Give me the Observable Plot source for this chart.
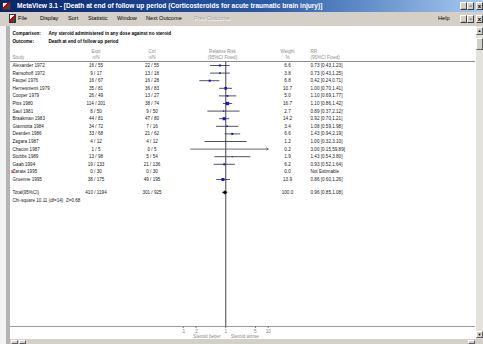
<!DOCTYPE html>
<html><head><meta charset="utf-8">
<script src="https://cdn.jsdelivr.net/npm/d3@7"></script>
<script src="https://cdn.jsdelivr.net/npm/@observablehq/plot@0.6"></script>
<style>
html,body{margin:0;padding:0;background:#fff;}
#win{position:relative;width:483px;height:344px;overflow:hidden;background:#d4d0c8;font-family:"Liberation Sans",Arial,sans-serif;}
#win div{position:absolute;box-sizing:border-box;}
#title{left:0;top:0;width:483px;height:12px;background:linear-gradient(to right,#0a246a 0%,#2a5aa8 55%,#a6caf0 100%);}
#title .t{left:17px;top:0;line-height:12px;font-size:6.6px;font-weight:bold;color:#fff;white-space:nowrap;}
.icon{width:9px;height:8px;background:linear-gradient(135deg,#fff 0%,#fff 35%,#c00 36%,#c00 60%,#444 61%);border:1px solid #333;}
.btn{width:7px;height:8px;background:#d4d0c8;border:1px solid;border-color:#fff #404040 #404040 #fff;font-size:6px;line-height:6px;text-align:center;color:#000;font-weight:bold;}
#menu{left:0;top:12px;width:483px;height:14px;background:#d4d0c8;}
#menu span{position:absolute;top:2px;font-size:5.6px;line-height:9px;color:#000;white-space:nowrap;}
#menu span.dis{color:#a0a0a0;text-shadow:0.5px 0.5px 0 #fff;}
#leftpad{left:0;top:26px;width:6px;height:318px;background:#f2f2f2;}
#leftbar{left:6px;top:26px;width:4px;height:318px;background:#b4b4b4;}
#content{left:10px;top:26px;width:466px;height:313px;background:#fff;}
#vscroll{left:476px;top:26px;width:7px;height:313px;background:#e4e2dc;}
#thumb{left:476px;top:38px;width:7px;height:12px;background:#d4d0c8;border:1px solid;border-color:#fff #606060 #606060 #fff;}
#upbtn{left:476px;top:27px;width:7px;height:8px;background:#d4d0c8;border:1px solid;border-color:#fff #606060 #606060 #fff;font-size:4px;line-height:6px;text-align:center;}
#dnbtn{left:476px;top:331px;width:7px;height:7px;background:#d4d0c8;border:1px solid;border-color:#fff #606060 #606060 #fff;font-size:4px;line-height:5px;text-align:center;}
#hscroll{left:10px;top:339px;width:473px;height:5px;background:#d4d0c8;}
.hb{top:340px;width:7px;height:4px;background:#d4d0c8;border:1px solid;border-color:#fff #606060 #606060 #fff;}
#plot{left:0;top:0;}
</style></head>
<body>
<div id="win">
  <div id="title">
    <div class="icon" style="left:2px;top:2px;"></div>
    <div class="t">MetaView 3.1 - [Death at end of follow up period (Corticosteroids for acute traumatic brain injury)]</div>
    <div class="btn" style="left:460px;top:2px;">_</div>
    <div class="btn" style="left:467px;top:2px;">&#9643;</div>
    <div class="btn" style="left:476px;top:2px;">x</div>
  </div>
  <div id="menu">
    <div class="icon" style="left:9px;top:2px;width:7px;height:9px;"></div>
    <span style="left:18px;">File</span>
    <span style="left:40px;">Display</span>
    <span style="left:68px;">Sort</span>
    <span style="left:88px;">Statistic</span>
    <span style="left:117px;">Window</span>
    <span style="left:146px;">Next Outcome</span>
    <span class="dis" style="left:194px;">Prev Outcome</span>
    <span style="left:438px;">Help</span>
    <div class="btn" style="left:460px;top:3px;">_</div>
    <div class="btn" style="left:467px;top:3px;">&#9643;</div>
    <div class="btn" style="left:476px;top:3px;">x</div>
  </div>
  <div id="leftpad"></div>
  <div id="leftbar"></div>
  <div id="content"></div>
  <div id="vscroll"></div>
  <div id="upbtn">&#9650;</div>
  <div id="thumb"></div>
  <div id="dnbtn">&#9660;</div>
  <div id="hscroll"></div>
  <div class="hb" style="left:11px;"></div>
  <div class="hb" style="left:19px;"></div>
  <div class="hb" style="left:468px;"></div>
  <div id="plot"></div>
</div>
<script>
// ---- data ----
const studies = ["Alexander 1972","Ransohoff 1972","Faupel 1976","Hernesniemi 1979","Cooper 1979","Pitts 1980","Saul 1981","Braakman 1983","Giannotta 1984","Dearden 1986","Zagara 1987","Chacon 1987","Stubbs 1989","Gaab 1994","Zarate 1995","Gruenne 1995"];
const exptEvents = [16, 9, 16, 35, 26, 114, 8, 44, 34, 33, 4, 1, 13, 19, 0, 38];
const exptTotals = [55, 17, 67, 81, 49, 201, 50, 81, 72, 68, 12, 5, 98, 133, 30, 175];
const ctrlEvents = [22, 13, 16, 36, 13, 38, 9, 47, 7, 21, 4, 0, 5, 21, 0, 49];
const ctrlTotals = [55, 18, 28, 83, 27, 74, 50, 80, 16, 62, 12, 5, 54, 136, 30, 195];
const weights = [6.6, 3.8, 6.8, 10.7, 5.0, 16.7, 2.7, 14.2, 3.4, 6.6, 1.2, 0.2, 1.9, 6.2, 0.0, 13.9];
const rr    = [0.73, 0.73, 0.42, 1.00, 1.10, 1.10, 0.89, 0.92, 1.08, 1.43, 1.00, 3.00, 1.43, 0.93, null, 0.86];
const rrLow = [0.43, 0.43, 0.24, 0.70, 0.69, 0.86, 0.37, 0.70, 0.59, 0.94, 0.32, 0.15, 0.54, 0.52, null, 0.60];
const rrHigh= [1.23, 1.25, 0.71, 1.41, 1.77, 1.42, 2.12, 1.21, 1.98, 2.19, 3.10, 59.89, 3.80, 1.64, null, 1.26];
const excluded = ["Zarate 1995"];
const total = {label: "Total(95%CI)", exptEvents: 410, exptTotal: 1194, ctrlEvents: 301, ctrlTotal: 925, weight: 100.0, rr: 0.96, lo: 0.85, hi: 1.08};
const heterogeneity = "Chi-square 10.11 (df=14)  Z=0.68";
const comparison = "Any steroid administered in any dose against no steroid";
const outcome = "Death at end of follow up period";
const tickValues = [0.1, 0.2, 1, 5, 10];
const tickLabels = [".1", ".2", "1", "5", "10"];
const favoursLeft = "Steroid better";
const favoursRight = "Steroid worse";

// ---- table ----
const rows = studies.map((s, i) => ({
  i, study: s, ee: exptEvents[i], en: exptTotals[i], ce: ctrlEvents[i], cn: ctrlTotals[i],
  w: weights[i], rr: rr[i], lo: rrLow[i], hi: rrHigh[i]
}));
const xMax = 10;
const est = rows.filter(d => d.rr != null);
const totalY = 16.7, hetY = 17.7;
const f2 = v => v.toFixed(2);
const rrText = d => d.rr == null ? "Not Estimable" : `${f2(d.rr)} [${f2(d.lo)},${f2(d.hi)}]`;

const fs = 4.6;
const body = "#202020", head = "#8c8c8c";
const col = (dx, anchor="middle") => ({frameAnchor: "left", dx, textAnchor: anchor, fontSize: fs});

const diamond = [
  {x: total.lo, y: totalY}, {x: total.rr, y: totalY - 0.22},
  {x: total.hi, y: totalY}, {x: total.rr, y: totalY + 0.22}, {x: total.lo, y: totalY}
];

const H1 = -1.9, H2 = -1.1, HL = -0.53, AX = 34.34;

const chart = Plot.plot({
  width: 483, height: 344,
  marginLeft: 10, marginRight: 8, marginTop: 26, marginBottom: 18,
  style: {background: "transparent", fontFamily: "'Liberation Sans', Arial, sans-serif", overflow: "hidden"},
  x: {type: "log", domain: [0.1, 10], range: [182.7, 267.7]},
  y: {type: "linear", domain: [0, 1], range: [65, 72.6], axis: null},
  r: {type: "sqrt", domain: [0, 16.7], range: [0, 1.86]},
  marks: [
    // header block
    Plot.text([comparison], {y: [-4.15], text: () => "Comparison:", ...col(2, "start"), fontWeight: "bold", fill: "#000"}),
    Plot.text([comparison], {y: [-4.15], text: d => d, ...col(38, "start"), fontWeight: "bold", fill: "#000"}),
    Plot.text([outcome], {y: [-3.1], text: () => "Outcome:", ...col(2, "start"), fontWeight: "bold", fill: "#000"}),
    Plot.text([outcome], {y: [-3.1], text: d => d, ...col(38, "start"), fontWeight: "bold", fill: "#000"}),
    Plot.text(["Study"], {y: [H2], text: d => d, ...col(2, "start"), fill: head}),
    Plot.text(["Expt", "n/N"], {y: [H1, H2], text: d => d, ...col(85.5), fill: head}),
    Plot.text(["Ctrl", "n/N"], {y: [H1, H2], text: d => d, ...col(141.5), fill: head}),
    Plot.text(["Relative Risk", "(95%CI Fixed)"], {y: [H1, H2], text: d => d, ...col(212), fill: head}),
    Plot.text(["Weight", "%"], {y: [H1, H2], text: d => d, ...col(277), fill: head}),
    Plot.text(["RR", "(95%CI Fixed)"], {y: [H1, H2], text: d => d, ...col(300, "start"), fill: head}),
    Plot.ruleY([HL], {stroke: "#8a8a8a", strokeWidth: 1}),
    // null line and axis line
    Plot.ruleX([1], {y1: HL, y2: AX, stroke: "#707070", strokeWidth: 1.3}),
    Plot.ruleY([AX], {stroke: "#9a9a9a", strokeWidth: 1}),
    // study rows
    Plot.text(rows.filter(d => excluded.includes(d.study)), {y: "i", text: () => "x", ...col(0.5, "start"), fill: "#e02020", fontWeight: "bold"}),
    Plot.text(rows, {y: "i", text: "study", ...col(2, "start"), fill: body}),
    Plot.text(rows, {y: "i", text: d => `${d.ee} / ${d.en}`, ...col(85.5), fill: body}),
    Plot.text(rows, {y: "i", text: d => `${d.ce} / ${d.cn}`, ...col(141.5), fill: body}),
    Plot.text(rows, {y: "i", text: d => d.w.toFixed(1), ...col(277), fill: body}),
    Plot.text(rows, {y: "i", text: rrText, ...col(300, "start"), fill: body, fontWeight: d => d.rr == null ? "bold" : "normal"}),
    // CIs
    Plot.link(est.filter(d => d.hi <= xMax), {x1: "lo", x2: "hi", y1: "i", y2: "i", stroke: "#3c3c58", strokeWidth: 0.9}),
    Plot.arrow(est.filter(d => d.hi > xMax), {x1: "lo", x2: () => xMax, y1: "i", y2: "i", stroke: "#5a5a6a", strokeWidth: 0.9, headLength: 3, headAngle: 70, insetEnd: 0}),
    Plot.dot(est, {x: "rr", y: "i", r: "w", symbol: "square", fill: "#1414d8", stroke: "none"}),
    // total
    Plot.text([total], {y: [totalY], text: d => d.label, ...col(2, "start"), fill: body}),
    Plot.text([total], {y: [totalY], text: d => `${d.exptEvents} / ${d.exptTotal}`, ...col(85.5), fill: body}),
    Plot.text([total], {y: [totalY], text: d => `${d.ctrlEvents} / ${d.ctrlTotal}`, ...col(141.5), fill: body}),
    Plot.text([total], {y: [totalY], text: d => d.weight.toFixed(1), ...col(277), fill: body}),
    Plot.text([total], {y: [totalY], text: d => `${f2(d.rr)} [${f2(d.lo)},${f2(d.hi)}]`, ...col(300, "start"), fill: body}),
    Plot.line(diamond, {x: "x", y: "y", fill: "#000", stroke: "#000", strokeWidth: 0.6}),
    Plot.text([heterogeneity], {y: [hetY], text: d => d, ...col(2, "start"), fill: body}),
    // axis
    Plot.axisX({ticks: tickValues, tickFormat: (d) => tickLabels[tickValues.indexOf(d)], tickSize: 2, tickPadding: 1.5, fontSize: fs, stroke: "#777", fill: "#808080", label: null}),
    Plot.text([favoursLeft], {x: [1], frameAnchor: "bottom", dy: 11, dx: -5, textAnchor: "end", text: d => d, fontSize: fs, fill: "#8c8c8c"}),
    Plot.text([favoursRight], {x: [1], frameAnchor: "bottom", dy: 11, dx: 5, textAnchor: "start", text: d => d, fontSize: fs, fill: "#8c8c8c"})
  ]
});
document.getElementById("plot").appendChild(chart);
</script>
</body></html>
